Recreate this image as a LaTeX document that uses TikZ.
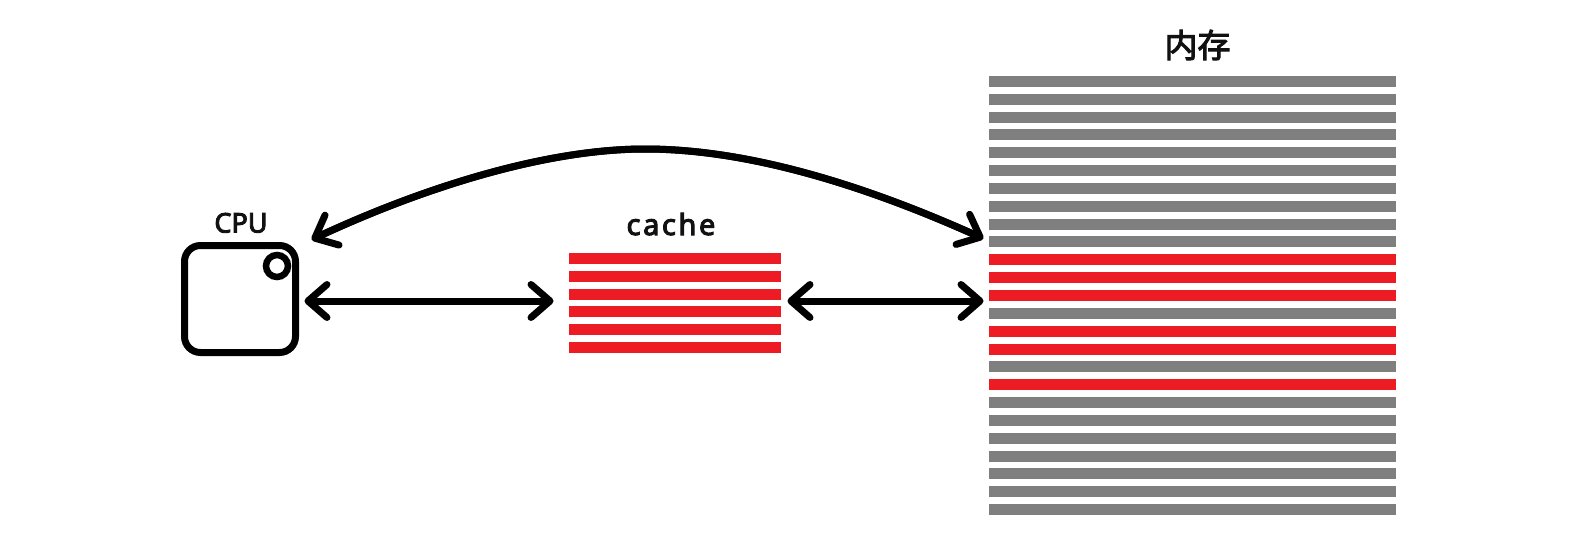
\documentclass[tikz,border=0pt]{standalone}
\usepackage{fontspec}
\setmainfont{Noto Sans}
\newfontfamily\labelfont[FakeBold=3.5]{Noto Sans}
\newfontfamily\spacedfont[FakeBold=3.5,LetterSpace=9]{Noto Sans}
\newfontfamily\cjk[FakeBold=3]{Noto Sans CJK SC}
\usetikzlibrary{arrows.meta}
\definecolor{barred}{HTML}{ED1C24}
\definecolor{bargrey}{HTML}{7F7F7F}
\definecolor{ink}{HTML}{111111}
\tikzset{
  x=1pt,y=-1pt,
  bar/.style={anchor=north west,inner sep=0pt,outer sep=0pt,minimum height=11pt,draw=none},
  membar/.style={bar,minimum width=407pt},
  cachebar/.style={bar,minimum width=212pt,fill=barred},
  shaft/.style={line width=7pt,black,line cap=butt,shorten <=2pt,shorten >=2pt},
  link/.style={line width=7pt,black,line cap=round,shorten <=-1.5pt,shorten >=-1.5pt,
    {Straight Barb[length=19pt,width=33pt,line width=7pt,round,sep=0pt]}-{Straight Barb[length=19pt,width=33pt,line width=7pt,round,sep=0pt]}},
  heading/.style={inner sep=0pt,text=ink,anchor=base},
}
\begin{document}
\begin{tikzpicture}
\useasboundingbox (0,0) rectangle (1591,557);
% memory bars
\foreach \yy/\cc [count=\i] in {76/bargrey,94/bargrey,112/bargrey,129/bargrey,147/bargrey,165/bargrey,183/bargrey,201/bargrey,219/bargrey,236/bargrey,254/barred,272/barred,290/barred,308/bargrey,326/barred,344/barred,361/bargrey,379/barred,397/bargrey,415/bargrey,433/bargrey,451/bargrey,468/bargrey,486/bargrey,504/bargrey}
  \node[membar,fill=\cc] (mem\i) at (989,\yy) {};
% cache bars
\foreach \yy [count=\i] in {253,271,289,306,324,342}
  \node[cachebar] (cache\i) at (569,\yy) {};
% CPU
\node[draw=black,line width=7pt,rounded corners=16pt,minimum width=111pt,minimum height=107pt,inner sep=0pt] (cpu) at (240,299) {};
\node[draw=black,line width=6.5pt,circle,minimum size=22pt,inner sep=0pt] (cpuled) at (277,266) {};
% labels
\node[heading,font=\labelfont\fontsize{27}{27}\selectfont] (cpulabel) at (241,232.5) {CPU};
\node[heading,font=\spacedfont\fontsize{29}{29}\selectfont] (cachelabel) at (671,235) {cache};
\node[heading,anchor=center,font=\cjk\fontsize{33}{33}\selectfont] (memlabel) at (1197.5,45) {内存};
% connector ends
\coordinate (a1) at (306,301);
\coordinate (a2) at (552,301);
\coordinate (b1) at (789,301);
\coordinate (b2) at (982,301);
\coordinate (c1) at (313,239);
\coordinate (peak) at (645,149);
\coordinate (c2) at (982,238);
\draw[link] (a1) -- (a2);
\draw[shaft] (a1) -- (a2);
\draw[link] (b1) -- (b2);
\draw[shaft] (b1) -- (b2);
\draw[link] (c1) .. controls (422,188) and (545,149) .. (peak) .. controls (745,149) and (860,183) .. (c2);
\draw[shaft] (c1) .. controls (422,188) and (545,149) .. (peak) .. controls (745,149) and (860,183) .. (c2);
\end{tikzpicture}
\end{document}
